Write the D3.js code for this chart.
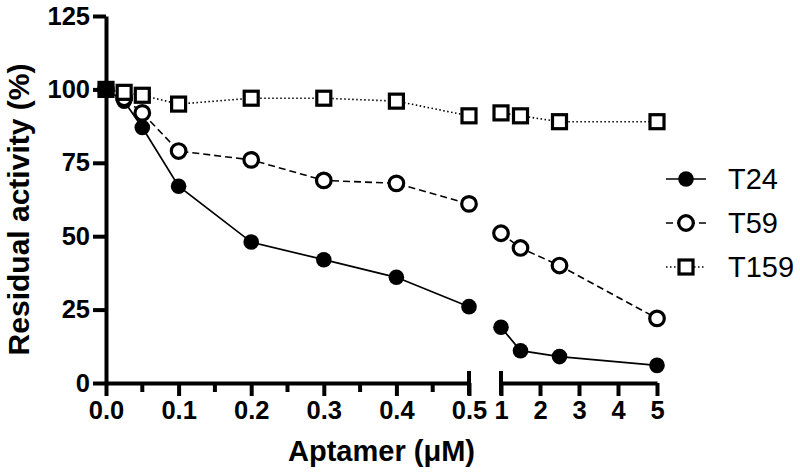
<!DOCTYPE html>
<html>
<head>
<meta charset="utf-8">
<script src="https://cdn.jsdelivr.net/npm/d3@7"></script>
<style>
  html, body { margin: 0; padding: 0; background: #fff; }
  svg { display: block; }
  text { font-family: "Liberation Sans", Arial, Helvetica, sans-serif; }
</style>
</head>
<body>
<svg id="chart" width="800" height="474"></svg>
<script>
// ---- data ----
const concentrations = [0, 0.025, 0.05, 0.1, 0.2, 0.3, 0.4, 0.5, 1, 1.5, 2.5, 5];
const seriesNames = ["T24", "T59", "T159"];
const t24Values  = [100, 96, 87, 67, 48, 42, 36, 26, 19, 11, 9, 6];
const t59Values  = [100, 97, 92, 79, 76, 69, 68, 61, 51, 46, 40, 22];
const t159Values = [100, 99, 98, 95, 97, 97, 96, 91, 92, 91, 89, 89];
const yTicks = [0, 25, 50, 75, 100, 125];
const xTicksLow = [0, 0.1, 0.2, 0.3, 0.4, 0.5];
const xMinorLow = [0.05, 0.15, 0.25, 0.35, 0.45];
const xTicksHigh = [1, 2, 3, 4, 5];
const xTitle = "Aptamer (\u03bcM)";
const yTitle = "Residual activity (%)";

const svg = d3.select("#chart");

const y = d3.scaleLinear().domain([0, 125]).range([383, 16]);
const xLow = d3.scaleLinear().domain([0, 0.5]).range([106, 469]);
const xHigh = d3.scaleLinear().domain([1, 5]).range([501, 657]);
const xPos = v => v <= 0.5 ? xLow(v) : xHigh(v);

const AW = 4; // axis stroke width
const FONT = '"Liberation Sans", Arial, sans-serif';

function styleAxis(g) {
  g.select(".domain").attr("stroke-width", AW).attr("stroke", "#000");
  g.selectAll(".tick line").attr("stroke-width", AW).attr("stroke", "#000");
  g.selectAll(".tick text").attr("font-size", 25.5).attr("font-weight", "bold").attr("fill", "#000")
    .attr("font-family", FONT);
}

// ---- y axis ----
const yAxis = svg.append("g").attr("transform", `translate(${xLow(0)},0)`)
  .call(d3.axisLeft(y).tickValues(yTicks).tickSize(13).tickSizeOuter(0).tickPadding(3));
styleAxis(yAxis);

// ---- x axis, low segment ----
const xAxisLow = svg.append("g").attr("transform", `translate(0,${y(0)})`)
  .call(d3.axisBottom(xLow).tickValues(xTicksLow).tickSize(13).tickSizeOuter(0)
    .tickPadding(5).tickFormat(d3.format(".1f")));
styleAxis(xAxisLow);
svg.append("g").selectAll("line").data(xMinorLow).join("line")
  .attr("x1", d => xLow(d)).attr("x2", d => xLow(d))
  .attr("y1", y(0)).attr("y2", y(0) + 9)
  .attr("stroke", "#000").attr("stroke-width", AW);

// ---- x axis, high segment ----
const xAxisHigh = svg.append("g").attr("transform", `translate(0,${y(0)})`)
  .call(d3.axisBottom(xHigh).tickValues(xTicksHigh).tickSize(13).tickSizeOuter(0).tickPadding(5)
    .tickFormat(d3.format("d")));
styleAxis(xAxisHigh);

// break caps
svg.append("g").selectAll("line").data([xLow(0.5), xHigh(1)]).join("line")
  .attr("x1", d => d).attr("x2", d => d)
  .attr("y1", y(0) - 12).attr("y2", y(0) + 12)
  .attr("stroke", "#000").attr("stroke-width", AW);

// ---- titles ----
svg.append("text").attr("x", (xLow(0) + xHigh(5)) / 2).attr("y", 461)
  .attr("text-anchor", "middle").attr("font-size", 29).attr("font-weight", "bold").text(xTitle);
svg.append("text").attr("transform", `translate(29,${(y(0) + y(125)) / 2 + 10}) rotate(-90)`)
  .attr("text-anchor", "middle").attr("font-size", 30).attr("font-weight", "bold").text(yTitle);

// ---- series ----
const mk = vals => concentrations.map((c, i) => ({ x: c, v: vals[i] }));
const series = [
  { name: seriesNames[0], data: mk(t24Values), dash: null, marker: "filled" },
  { name: seriesNames[1], data: mk(t59Values), dash: "7,4", marker: "open" },
  { name: seriesNames[2], data: mk(t159Values), dash: "1.5,2.5", marker: "square" }
];

const line = d3.line().x(d => xPos(d.x)).y(d => y(d.v));

function drawMarker(g, type, cx, cy, isZero) {
  if (type === "filled") {
    g.append("circle").attr("cx", cx).attr("cy", cy).attr("r", 7.8).attr("fill", "#000");
  } else if (type === "open") {
    g.append("circle").attr("cx", cx).attr("cy", cy).attr("r", 7.3)
      .attr("fill", "#fff").attr("stroke", "#000").attr("stroke-width", 3.2);
  } else {
    g.append("rect").attr("x", cx - 7).attr("y", cy - 7).attr("width", 14).attr("height", 14)
      .attr("fill", isZero ? "#000" : "#fff").attr("stroke", "#000").attr("stroke-width", 3.2);
  }
}

series.forEach(s => {
  const g = svg.append("g");
  const low = s.data.filter(d => d.x <= 0.5);
  const high = s.data.filter(d => d.x >= 1);
  [low, high].forEach(seg => {
    g.append("path").datum(seg).attr("d", line).attr("fill", "none")
      .attr("stroke", "#000").attr("stroke-width", s.marker === "filled" ? 1.7 : 1.6)
      .attr("stroke-dasharray", s.dash);
  });
  s.data.forEach(d => drawMarker(g, s.marker, xPos(d.x), y(d.v), d.x === 0));
});

// ---- legend ----
const legendY = [179, 223, 267];
series.forEach((s, i) => {
  const g = svg.append("g");
  g.append("line").attr("x1", 666).attr("x2", 706).attr("y1", legendY[i]).attr("y2", legendY[i])
    .attr("stroke", "#000").attr("stroke-width", 1.6).attr("stroke-dasharray", s.dash);
  drawMarker(g, s.marker, 686, legendY[i], false);
  g.append("text").attr("x", 728).attr("y", legendY[i]).attr("dy", "0.36em")
    .attr("font-size", 29).attr("fill", "#000").text(s.name);
});
</script>
</body>
</html>
